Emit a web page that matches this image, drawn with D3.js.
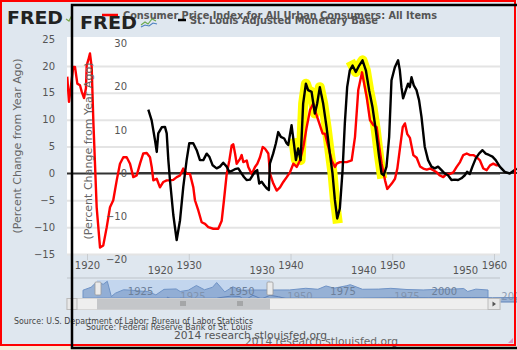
<!DOCTYPE html>
<html><head><meta charset="utf-8">
<script src="https://cdn.jsdelivr.net/npm/d3@7/dist/d3.min.js"></script>
<style>body{margin:0;background:#fff}svg{display:block}text{font-family:"DejaVu Sans",Verdana,sans-serif}</style>
</head><body><svg id="c" width="517" height="350"></svg>
<script>
// ---- Chart 1: CPI, percent change from year ago ----
const cpiYears = [
 1918.06,1918.23,1918.65,1918.82,
 1919.05,1919.31,1919.48,1919.71,1919.90,1919.97,
 1920.13,1920.29,1920.46,1920.62,1920.95,
 1921.28,1921.60,1921.94,
 1922.26,1922.58,1922.92,
 1923.24,1923.57,1923.90,
 1924.23,1924.55,1924.88,
 1925.21,1925.53,1925.87,
 1926.19,1926.36,1926.52,1926.85,
 1927.17,1927.50,1927.83,
 1928.16,1928.48,1928.82,
 1929.14,1929.46,1929.80,
 1930.12,1930.45,1930.61,1930.94,
 1931.27,1931.60,1931.92,
 1932.41,1932.90,
 1933.24,1933.46,1933.73,1933.99,
 1934.22,1934.38,1934.55,1934.71,
 1935.04,1935.20,1935.36,1935.70,1935.85,
 1936.19,1936.51,1936.74,
 1937.00,1937.27,1937.49,1937.82,1937.99,
 1938.31,1938.64,1938.97,
 1939.29,1939.63,1939.95,
 1940.28,1940.61,1940.93,
 1941.26,1941.59,1941.92,
 1942.24,1942.51,1942.83,
 1943.16,1943.39,1943.72,
 1944.05,1944.37,1944.54,1944.86,
 1945.52,
 1946.01,1946.34,1946.66,
 1947.03,1947.49,1947.81,
 1948.14,1948.47,1948.63,1948.96,
 1949.29,1949.51,1949.95,
 1950.27,1950.50,1950.76,
 1951.03,1951.25,1951.48,1951.74,
 1952.07,1952.40,1952.73,
 1953.05,1953.39,1953.71,
 1954.03,1954.37,1954.69,
 1955.02,1955.35,1955.67,
 1956.00,1956.33,1956.66,1956.98,
 1957.32,1957.64,1957.97,
 1958.30,1958.62,1958.95,
 1959.28,1959.61,1959.93,
 1960.26,1960.52];
const cpiValues = [
 18.0,13.3,19.8,19.8,
 16.7,16.4,15.2,14.0,15.9,20.1,
 21.1,22.3,19.8,9.9,-6.3,
 -13.8,-13.4,-10.0,
 -6.3,-5.0,-1.3,
 1.8,3.0,3.0,
 1.8,-0.7,-0.4,
 1.8,3.7,3.8,
 3.0,1.2,-1.3,-1.0,
 -2.6,-1.6,-1.3,
 -1.3,-1.2,-0.7,
 -0.4,0.9,-0.1,
 -0.1,-2.6,-5.0,-6.9,
 -9.1,-9.4,-10.0,
 -10.3,-10.3,
 -8.8,-5.0,-0.1,2.4,
 5.2,5.4,3.7,1.8,
 2.7,3.4,2.1,2.4,1.2,
 -0.1,1.2,1.8,
 3.0,4.9,4.6,3.7,-0.1,
 -1.9,-3.2,-2.6,
 -1.6,-0.7,0.2,
 1.8,1.2,2.4,
 4.9,8.6,11.8,
 13.0,11.1,9.3,
 7.4,7.4,4.9,
 2.4,1.2,1.8,2.1,
 2.1,
 2.4,6.8,15.5,
 18.8,14.2,9.9,
 9.0,8.6,6.2,1.8,
 -1.3,-2.9,-1.9,
 -1.0,0.9,4.7,
 8.6,9.3,7.3,6.6,
 3.4,2.9,1.3,
 0.9,0.7,0.9,
 0.6,0.2,-0.4,
 -0.7,-0.1,-0.1,
 0.2,1.2,2.1,3.4,
 3.7,3.4,3.4,
 3.0,2.4,0.9,
 0.6,1.5,1.8,
 1.5,1.5];

// ---- Chart 2: St. Louis Adjusted Monetary Base, percent change from year ago ----
const baseYears = [
 1918.85,1919.18,1919.51,1919.68,1919.83,1920.17,1920.49,1920.66,1920.82,1920.98,
 1921.31,1921.64,1921.97,1922.29,1922.62,1922.88,1923.27,1923.61,1923.93,1924.26,
 1924.59,1924.85,1925.18,1925.57,1925.90,1926.22,1926.56,1926.81,1927.05,1927.37,
 1927.70,1928.03,1928.26,1928.52,1928.85,1929.11,1929.34,1929.56,1929.76,1930.00,
 1930.25,1930.49,1930.71,1930.81,1931.13,1931.40,1931.63,1931.89,1932.22,1932.45,
 1932.61,1932.94,1933.17,1933.37,1933.59,1933.83,1934.08,1934.35,1934.57,1934.91,
 1935.23,1935.46,1935.72,1936.05,1936.38,1936.71,1936.97,1937.20,1937.43,1937.69,
 1937.96,1938.18,1938.41,1938.67,1938.94,1939.26,1939.59,1939.92,1940.25,1940.57,
 1940.90,1941.23,1941.55,1941.79,1942.01,1942.28,1942.54,1942.77,1943.10,1943.42,
 1943.59,1943.75,1943.91,1944.18,1944.40,1944.57,1944.74,1944.96,1945.23,1945.48,
 1945.72,1946.04,1946.37,1946.70,1947.03,1947.35,1947.69,1948.01,1948.33,1948.67,
 1948.99,1949.32,1949.65,1949.98,1950.20,1950.47,1950.73,1951.06,1951.38,1951.72,
 1952.04,1952.36,1952.70,1953.02,1953.42,1953.91,1954.40,1954.89,1955.09];
const baseValues = [
 14.7,12.2,7.6,4.9,9.2,10.6,10.7,9.2,3.0,-1.6,
 -9.7,-15.5,-10.9,-3.2,3.0,6.9,6.9,5.3,3.0,3.0,
 4.5,3.8,1.8,1.1,1.5,2.4,1.5,0.3,0.5,0.9,
 1.1,-0.1,-0.9,-1.6,-1.5,-0.5,0.3,0.7,-2.4,-2.0,
 -2.8,-3.5,-3.9,2.2,4.5,6.9,9.5,8.4,8.0,6.9,
 6.5,11.1,6.9,3.0,5.7,3.0,16.1,20.7,19.2,18.8,
 13.8,16.1,19.9,16.1,10.7,4.5,-0.1,-6.2,-10.5,-8.2,
 0.7,11.5,19.9,23.8,24.9,23.4,24.9,26.1,23.8,19.2,
 15.3,9.9,3.8,-0.1,-0.5,1.5,8.4,21.5,24.5,26.1,
 23.8,19.9,17.3,19.2,20.7,19.9,22.2,20.3,19.2,16.9,
 13.0,6.1,3.0,1.5,1.1,1.5,0.7,-0.1,-0.5,-1.6,
 -1.5,-1.6,-1.2,-0.5,0.3,-0.2,1.5,3.4,4.5,5.3,
 4.5,4.2,3.8,3.0,1.5,0.3,-0.1,0.7,1.1];

// highlighter strokes (year ranges on the monetary base series)
const highlightStart = [1933.1, 1938.9];
const highlightEnd   = [1937.45, 1941.85];

// ticks
const yTicks1 = [25,20,15,10,5,0,-5,-10,-15];
const yTicks2 = [30,20,10,0,-10,-20];
const xTicks1 = [1920,1930,1940,1950,1960];
const xTicks2 = [1920,1930,1940,1950];

// navigator series
const navCpiYears = [1914,1916,1917,1918,1919,1920,1921,1922,1924,1926,1928,1930,1932,1934,1937,1938,1940,1942,1944,1946,1947,1949,1951,1953,1956,1960,1965,1969,1972,1974,1976,1979,1980,1983,1987,1990,1994,1998,2001,2005,2008,2009,2011,2014];
const navCpiValues = [1,8,17,18,15,22,-14,-6,2,1,-1,-2,-10,3,4,-2,1,12,2,8,19,-3,9,1,1.5,1.5,1.6,5.5,3.2,11,5.8,11.3,14,3.2,3.6,5.4,2.6,1.6,2.8,3.4,5,-2,3.5,1.5];
const navBaseYears = [1919,1921,1922,1925,1930,1931,1934,1936,1937,1939,1941,1943,1945,1947,1950,1955,1960,1965,1970,1975,1980,1985,1990,1995,2000,2005,2010,2014];
const navBaseValues = [12,-15,5,2,-3,8,20,16,-10,25,0,25,15,1,0,1,1,4,6,8,7,8,9,8,9,5,40,20];
const navTicks = [1925,1950,1975,2000];

const title1 = "Consumer Price Index for All Urban Consumers: All Items";
const title2 = "St. Louis Adjusted Monetary Base";
const yTitle = "(Percent Change from Year Ago)";
const src1 = "Source: U.S. Department of Labor: Bureau of Labor Statistics";
const src2 = "Source: Federal Reserve Bank of St. Louis";
const credit = "2014 research.stlouisfed.org";

// ---------------- drawing ----------------
const svg = d3.select('#c');
const W = 517, H = 350;
const BG = '#dfe7ef';

svg.append('rect').attr('width', W).attr('height', H).attr('fill', BG);
svg.append('rect').attr('x', 0).attr('y', 346).attr('width', W).attr('height', 4).attr('fill', '#f4edd9');

// scales
const x1 = d3.scaleLinear().domain([1920, 1960]).range([87, 494]);
const y1 = d3.scaleLinear().domain([-15, 25]).range([254, 39]);
const x2 = d3.scaleLinear().domain([1920, 1950]).range([160, 465]);
const y2 = d3.scaleLinear().domain([-20, 30]).range([259.5, 43.5]);

const P1 = {l: 67, r: 500, t: 37, b: 254};

const defs = svg.append('defs');
defs.append('clipPath').attr('id', 'clip1').append('rect')
  .attr('x', P1.l).attr('y', P1.t).attr('width', P1.r - P1.l).attr('height', P1.b - P1.t);
defs.append('clipPath').attr('id', 'clip2').append('rect')
  .attr('x', 139).attr('y', 30).attr('width', W - 139).attr('height', 235);

// plot background
svg.append('rect').attr('x', P1.l).attr('y', P1.t).attr('width', P1.r - P1.l).attr('height', P1.b - P1.t).attr('fill', '#fff');

// gridlines chart 1
const grid = d3.axisLeft(y1).tickValues(yTicks1.filter(v => v !== 0 && v !== 25)).tickSize(-(P1.r - P1.l)).tickFormat('');
const gG = svg.append('g').attr('transform', `translate(${P1.l},0)`).call(grid);
gG.select('.domain').remove();
gG.selectAll('line').attr('stroke', '#e4e4e4').attr('stroke-width', 2);

// x tick marks chart1
const xt = d3.axisBottom(x1).tickValues(xTicks1).tickSize(6).tickFormat('');
const xtG = svg.append('g').attr('transform', `translate(0,${P1.b})`).call(xt);
xtG.select('.domain').remove();
xtG.selectAll('line').attr('stroke', '#c8ccd0');

// navigator top line
svg.append('line').attr('x1', P1.l).attr('x2', P1.r).attr('y1', 278).attr('y2', 278).attr('stroke', '#c9cfd6').attr('stroke-width', 1.5);

// zero lines
svg.append('line').attr('x1', P1.l).attr('x2', P1.r).attr('y1', y1(0)).attr('y2', y1(0)).attr('stroke', '#333').attr('stroke-width', 2);
svg.append('line').attr('x1', 139).attr('x2', W).attr('y1', y2(0)).attr('y2', y2(0)).attr('stroke', '#333').attr('stroke-width', 2);

// data
const cpi = d3.zip(cpiYears, cpiValues);
const base = d3.zip(baseYears, baseValues);
const line1 = d3.line().x(d => x1(d[0])).y(d => y1(d[1]));
const line2 = d3.line().x(d => x2(d[0])).y(d => y2(d[1]));

// highlights
highlightStart.forEach((s, i) => {
  const seg = base.filter(d => d[0] >= s && d[0] <= highlightEnd[i]);
  svg.append('path').attr('d', line2(seg)).attr('fill', 'none')
    .attr('stroke', '#ffff00').attr('stroke-width', 10)
    .attr('stroke-linejoin', 'round').attr('stroke-linecap', 'square');
});

svg.append('path').attr('clip-path', 'url(#clip1)').attr('d', line1(cpi))
  .attr('fill', 'none').attr('stroke', '#ff0000').attr('stroke-width', 2.4).attr('stroke-linejoin', 'round');
svg.append('path').attr('clip-path', 'url(#clip2)').attr('d', line2(base))
  .attr('fill', 'none').attr('stroke', '#000').attr('stroke-width', 2.4).attr('stroke-linejoin', 'round');

// axis labels chart1
const ya1 = d3.axisLeft(y1).tickValues(yTicks1).tickSize(0).tickPadding(0);
const ya1G = svg.append('g').attr('transform', 'translate(55,0)').call(ya1);
ya1G.select('.domain').remove();
ya1G.selectAll('text').attr('font-size', 10).attr('fill', '#555').attr('font-family', '"DejaVu Sans",Verdana,sans-serif');

const xa1 = d3.axisBottom(x1).tickValues(xTicks1).tickSize(0).tickPadding(0).tickFormat(d3.format('d'));
const xa1G = svg.append('g').attr('transform', 'translate(0,262)').call(xa1);
xa1G.select('.domain').remove();
xa1G.selectAll('text').attr('font-size', 10).attr('fill', '#555').attr('font-family', '"DejaVu Sans",Verdana,sans-serif');

// navigator chart1
const nx1 = d3.scaleLinear().domain([1914, 2014]).range([83, 488]);
const ny1 = d3.scaleLinear().domain([-15, 25]).range([297, 280]);
svg.append('rect').attr('x', 97).attr('y', 280).attr('width', 173).attr('height', 18).attr('fill', '#c3d6ee');
const navArea1 = d3.area().x(d => nx1(d[0])).y0(298).y1(d => ny1(d[1]));
svg.append('path').attr('d', navArea1(d3.zip(navCpiYears, navCpiValues)))
  .attr('fill', '#8aa7d0').attr('fill-opacity', 0.85).attr('stroke', '#6f93c6').attr('stroke-width', 1);
navTicks.forEach(t => {
  svg.append('text').attr('x', nx1(t) + 13).attr('y', 295).attr('text-anchor', 'middle')
    .attr('font-size', 10).attr('fill', '#6c7f99').text(t);
});
// navigator chart2
const nx2 = d3.scaleLinear().domain([1925, 1975]).range([193, 407]);
const ny2 = d3.scaleLinear().domain([-20, 40]).range([302, 293]);
const navArea2 = d3.area().x(d => nx2(d[0])).y0(302).y1(d => ny2(d[1]));
svg.append('path').attr('d', navArea2(d3.zip(navBaseYears, navBaseValues)))
  .attr('fill', '#8aa7d0').attr('fill-opacity', 0.8).attr('stroke', '#5f82b8').attr('stroke-width', 1);
navTicks.forEach(t => {
  svg.append('text').attr('x', nx2(t)).attr('y', 300).attr('text-anchor', 'middle')
    .attr('font-size', 10).attr('fill', '#7a8ba3').attr('fill-opacity', 0.8).text(t);
});
// handles
[[95, 282], [267, 282]].forEach(p => {
  svg.append('rect').attr('x', p[0]).attr('y', p[1]).attr('width', 6).attr('height', 13)
    .attr('fill', '#ebebeb').attr('stroke', '#9a9a9a').attr('stroke-width', 0.8).attr('rx', 1);
});
// scrollbar
svg.append('rect').attr('x', 67).attr('y', 298.5).attr('width', 433).attr('height', 11).attr('fill', '#eeeeee').attr('stroke', '#d6d6d6');
svg.append('rect').attr('x', 97).attr('y', 298.5).attr('width', 173).attr('height', 11).attr('fill', '#c4c6c9');
svg.append('rect').attr('x', 67).attr('y', 298.5).attr('width', 10).attr('height', 11).attr('fill', '#e8e8e8').attr('stroke', '#bbb');
svg.append('rect').attr('x', 488).attr('y', 298.5).attr('width', 12).attr('height', 11).attr('fill', '#e8e8e8').attr('stroke', '#bbb');
svg.append('path').attr('d', 'M492.5,301.5 L496,304 L492.5,306.5 Z').attr('fill', '#555');
[183, 240].forEach(cx => {
  [-2, 0, 2].forEach(o => svg.append('line').attr('x1', cx + o).attr('x2', cx + o).attr('y1', 301).attr('y2', 306).attr('stroke', '#777').attr('stroke-width', 0.8));
});

// sources
const T = (x, y, s, fs, fill, len, weight) => {
  const t = svg.append('text').attr('x', x).attr('y', y).attr('font-size', fs).attr('fill', fill).text(s);
  if (len) t.attr('textLength', len).attr('lengthAdjust', 'spacingAndGlyphs');
  if (weight) t.attr('font-weight', weight);
  return t;
};
T(14, 324, src1, 8, '#444', 239);
T(86, 329.5, src2, 8, '#444', 166);
T(174, 339, credit, 10, '#555', 153);
T(245, 344.5, credit, 10, '#666', 153);

// chart1 header
T(7, 23.5, 'FRED', 18, '#222', 56, 'bold');
svg.append('path').attr('d', 'M66,19 L69,21 L72,15').attr('fill', 'none').attr('stroke', '#7aa64a').attr('stroke-width', 1.2);
svg.append('line').attr('x1', 102).attr('x2', 118).attr('y1', 15).attr('y2', 15).attr('stroke', '#f00').attr('stroke-width', 2.5);
T(123, 18.5, title1, 10, '#555', 314, 'bold');
T(17, 146, yTitle, 10, '#666', 175).attr('transform', 'rotate(-90,17,146)').attr('text-anchor', 'middle').attr('dy', '0.35em');

// chart2 overlay texts
T(80, 28.5, 'FRED', 18, '#222', 57, 'bold');
svg.append('path').attr('d', 'M141,25 L145,22 L148,24 L152,19 L156,21').attr('fill', 'none').attr('stroke', '#6aa84f').attr('stroke-width', 1.1);
svg.append('path').attr('d', 'M141,27 L145,25 L149,26 L153,23 L157,24').attr('fill', 'none').attr('stroke', '#4a7fc0').attr('stroke-width', 1.1);
svg.append('line').attr('x1', 178).attr('x2', 186).attr('y1', 20).attr('y2', 20).attr('stroke', '#000').attr('stroke-width', 2.5);
T(190, 23.5, title2, 10, '#555', 188, 'bold');
T(88, 151, yTitle, 10, '#666', 177).attr('transform', 'rotate(-90,88,151)').attr('text-anchor', 'middle').attr('dy', '0.35em');

const ya2 = d3.axisLeft(y2).tickValues(yTicks2).tickSize(0).tickPadding(0);
const ya2G = svg.append('g').attr('transform', 'translate(127,0)').call(ya2);
ya2G.select('.domain').remove();
ya2G.selectAll('text').attr('font-size', 10).attr('fill', '#555').attr('font-family', '"DejaVu Sans",Verdana,sans-serif');

const xa2 = d3.axisBottom(x2).tickValues(xTicks2).tickSize(0).tickPadding(0).tickFormat(d3.format('d'));
const xa2G = svg.append('g').attr('transform', 'translate(0,267)').call(xa2);
xa2G.select('.domain').remove();
xa2G.selectAll('text').attr('font-size', 10).attr('fill', '#555').attr('font-family', '"DejaVu Sans",Verdana,sans-serif');

// frames
svg.append('rect').attr('x', 1).attr('y', 1).attr('width', 514).attr('height', 344)
  .attr('fill', 'none').attr('stroke', '#f00').attr('stroke-width', 2);
svg.append('rect').attr('x', 72).attr('y', 5).attr('width', 470).attr('height', 343)
  .attr('fill', 'none').attr('stroke', '#000').attr('stroke-width', 2.5);
svg.append('path').attr('d', 'M513,338 L513,343 L508,343 Z').attr('fill', '#e090c0');
</script>
</body></html>
